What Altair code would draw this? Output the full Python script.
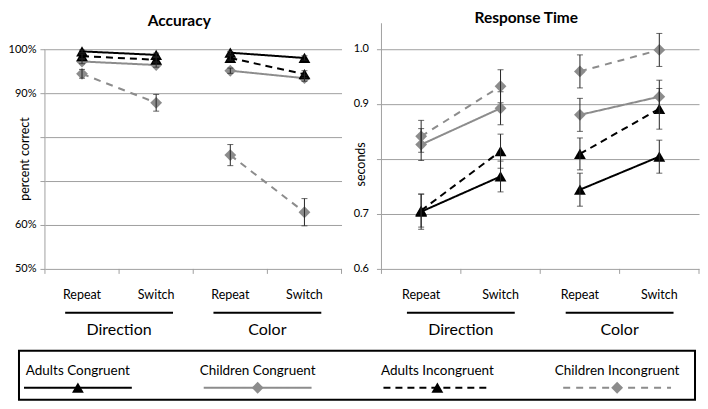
import altair as alt
import pandas as pd

# ---------------- data ----------------
tasks = ["Direction", "Direction", "Color", "Color"]
conditions = ["Repeat", "Switch", "Repeat", "Switch"]
series = ["Adults Congruent", "Children Congruent", "Adults Incongruent", "Children Incongruent"]

acc_mean = {
    "Adults Congruent": [99.5, 98.7, 99.2, 98.0],
    "Children Congruent": [97.2, 96.4, 95.1, 93.4],
    "Adults Incongruent": [98.4, 97.6, 98.0, 94.3],
    "Children Incongruent": [94.4, 87.8, 75.9, 62.9],
}
acc_err = {
    "Adults Congruent": [0.3, 0.4, 0.3, 0.5],
    "Children Congruent": [0.5, 0.5, 0.6, 0.7],
    "Adults Incongruent": [0.5, 0.5, 0.5, 0.8],
    "Children Incongruent": [1.0, 1.9, 2.4, 3.1],
}
rt_mean = {
    "Adults Congruent": [0.704, 0.768, 0.744, 0.804],
    "Children Congruent": [0.826, 0.892, 0.880, 0.913],
    "Adults Incongruent": [0.706, 0.814, 0.809, 0.891],
    "Children Incongruent": [0.841, 0.932, 0.959, 0.998],
}
rt_err = {
    "Adults Congruent": [0.032, 0.028, 0.030, 0.030],
    "Children Congruent": [0.029, 0.030, 0.030, 0.030],
    "Adults Incongruent": [0.030, 0.031, 0.029, 0.037],
    "Children Incongruent": [0.029, 0.030, 0.030, 0.030],
}

acc_ticks = [50, 60, 70, 80, 90, 100]
acc_hidden = [70, 80]
rt_ticks = [0.6, 0.7, 0.8, 0.9, 1.0]
rt_hidden = [0.8]

# ---------------- styles ----------------
FONT = "Lato"
GRID = "#a0a0a0"
colors = ["#000000", "#8c8c8c", "#000000", "#8c8c8c"]
dashes = [[1, 0], [1, 0], [7, 5], [7, 6]]
shapes = ["triangle-up", "diamond", "triangle-up", "diamond"]

color_scale = alt.Scale(domain=series, range=colors)
dash_scale = alt.Scale(domain=series, range=dashes)
shape_scale = alt.Scale(domain=series, range=shapes)


def build_df(means, errs):
    rows = []
    for s in series:
        for i in range(4):
            m = means[s][i]
            e = errs[s][i]
            rows.append({"series": s, "task": tasks[i], "cond": conditions[i],
                         "pos": i + 0.5, "mean": m, "lo": m - e, "hi": m + e})
    return pd.DataFrame(rows)


cond_df = pd.DataFrame({"pos": [i + 0.5 for i in range(4)], "cond": conditions})
group_names = ["Direction", "Color"]
group_df = pd.DataFrame({"group": group_names,
                         "center": [tasks.index(g) + tasks.count(g) / 2 for g in group_names]})
bound_df = pd.DataFrame({"b": list(range(5))})
legend_df = pd.DataFrame({"series": series, "slot": list(range(len(series)))})


def panel(df, W, H, ydom, yticks, hidden, fmt, title, ytitle, ytitle_at,
          title_dx, title_y, ylab_pad, ytitle_x, legend=False):
    xs = alt.Scale(domain=[0, 4])
    ys = alt.Scale(domain=ydom, nice=False, zero=False)
    hid = " || ".join([f"abs(datum.value - {h}) < 1e-6" for h in hidden])
    yaxis = alt.Axis(values=yticks, grid=True, gridColor=GRID, gridWidth=1,
                     domain=False, ticks=True, tickColor=GRID, tickSize=5,
                     labelExpr=f"({hid}) ? '' : {fmt}", labelFont=FONT,
                     labelFontSize=11, labelColor="#000", labelPadding=ylab_pad,
                     title=None)
    base = alt.Chart(df)
    X = alt.X("pos:Q", scale=xs, axis=None)

    grid_layer = base.mark_point(opacity=0).encode(
        x=X, y=alt.Y("mean:Q", scale=ys, axis=yaxis))

    yline = alt.Chart(pd.DataFrame({"k": [0]})).mark_rule(color=GRID, strokeWidth=1).encode(
        x=alt.value(0), y=alt.Y("y0:Q", scale=ys), y2="y1:Q"
    ).transform_calculate(y0=str(ydom[0]), y1=str(ytitle_at[1]))

    ticks = alt.Chart(bound_df).mark_rule(color=GRID, strokeWidth=1).encode(
        x=alt.X("b:Q", scale=xs, axis=None), y=alt.value(H), y2=alt.value(H + 5))

    lines = base.mark_line(strokeWidth=2).encode(
        x=X, y=alt.Y("mean:Q", scale=ys),
        color=alt.Color("series:N", scale=color_scale, legend=None),
        strokeDash=alt.StrokeDash("series:N", scale=dash_scale, legend=None),
        detail="task:N")

    points = base.mark_point(filled=True, opacity=1, size=140).encode(
        x=X, y=alt.Y("mean:Q", scale=ys),
        color=alt.Color("series:N", scale=color_scale, legend=None),
        shape=alt.Shape("series:N", scale=shape_scale, legend=None))

    ebar = base.mark_rule(color="#262626", strokeWidth=1).encode(
        x=X, y=alt.Y("lo:Q", scale=ys), y2="hi:Q")
    cap_lo = base.mark_tick(color="#262626", thickness=1, size=6, orient="horizontal").encode(
        x=X, y=alt.Y("lo:Q", scale=ys))
    cap_hi = base.mark_tick(color="#262626", thickness=1, size=6, orient="horizontal").encode(
        x=X, y=alt.Y("hi:Q", scale=ys))

    xlabels = alt.Chart(cond_df).mark_text(font=FONT, fontSize=12.5, baseline="middle",
                                           color="#000").encode(
        x=alt.X("pos:Q", scale=xs, axis=None), y=alt.value(H + 26), text="cond:N")

    underline = alt.Chart(group_df).mark_rule(color="#000", strokeWidth=2,
                                              xOffset=-54, x2Offset=54).encode(
        x=alt.X("center:Q", scale=xs, axis=None), x2="center:Q", y=alt.value(H + 44))

    glabels = alt.Chart(group_df).mark_text(font=FONT, fontSize=16, baseline="middle",
                                            color="#000").encode(
        x=alt.X("center:Q", scale=xs, axis=None), y=alt.value(H + 61), text="group:N")

    ttl = alt.Chart(pd.DataFrame({"t": [title]})).mark_text(
        font=FONT, fontSize=15.5, fontWeight="bold", baseline="top", color="#000").encode(
        x=alt.value(W / 2 + title_dx), y=alt.value(title_y), text="t:N")

    ytl = alt.Chart(pd.DataFrame({"t": [ytitle], "v": [ytitle_at[0]]})).mark_text(
        font=FONT, fontSize=12.5, angle=270, baseline="middle", color="#000").encode(
        x=alt.value(ytitle_x), y=alt.Y("v:Q", scale=ys), text="t:N")

    layers = [grid_layer, yline, ticks, lines, points, ebar, cap_lo, cap_hi,
              xlabels, underline, glabels, ttl, ytl]

    if legend:
        ls = alt.Scale(domain=[0, len(series) - 1], range=[33, 573])
        LX = alt.X("slot:Q", scale=ls, axis=None)
        lbase = alt.Chart(legend_df)
        box = alt.Chart(pd.DataFrame({"k": [0]})).mark_rect(
            fill=None, stroke="#000", strokeWidth=2).encode(
            x=alt.value(-26), x2=alt.value(651), y=alt.value(H + 82), y2=alt.value(H + 131))
        ltext = lbase.mark_text(font=FONT, fontSize=13.5, baseline="middle", color="#000").encode(
            x=LX, y=alt.value(H + 102), text="series:N")
        lline = lbase.mark_rule(strokeWidth=2, xOffset=-54, x2Offset=54).encode(
            x=LX, x2="slot:Q", y=alt.value(H + 119),
            color=alt.Color("series:N", scale=color_scale, legend=None),
            strokeDash=alt.StrokeDash("series:N", scale=dash_scale, legend=None))
        lpt = lbase.mark_point(filled=True, opacity=1, size=140).encode(
            x=LX, y=alt.value(H + 119),
            color=alt.Color("series:N", scale=color_scale, legend=None),
            shape=alt.Shape("series:N", scale=shape_scale, legend=None))
        layers += [box, ltext, lline, lpt]

    return alt.layer(*layers).resolve_scale(x="independent").properties(width=W, height=H)


H = 246
acc_df = build_df(acc_mean, acc_err)
rt_df = build_df(rt_mean, rt_err)

left = panel(acc_df, 297, H, [50, 105.9], acc_ticks, acc_hidden,
             "datum.value + '%'", "Accuracy", "percent correct", (75, 100),
             -14, -9, 4, -20, legend=True)
right = panel(rt_df, 318, H, [0.6, 1.0465], rt_ticks, rt_hidden,
              "format(datum.value, '.1f')", "Response Time", "seconds", (0.79, 1.0465),
              -14, -12, 8, -20)

chart = alt.hconcat(left, right, spacing=40, bounds="flush").properties(
    padding={"top": 3, "left": 0, "right": 0, "bottom": 0}
).configure_view(stroke=None)

chart.save("out.html", embed_options={"renderer": "svg", "actions": False})
